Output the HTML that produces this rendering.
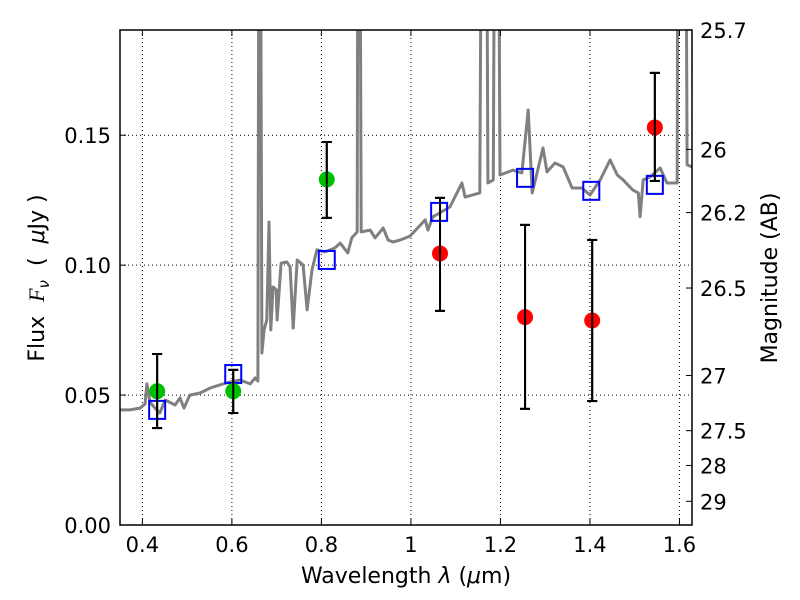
<!DOCTYPE html>
<html><head><meta charset="utf-8"><style>
body{margin:0;background:#fff}
svg{display:block;font-family:"DejaVu Sans","Liberation Sans",sans-serif}
</style></head><body>
<svg id="chart" width="800" height="600" viewBox="0 0 800 600">
<defs><clipPath id="clip"><rect x="120" y="30" width="572" height="495"/></clipPath></defs>
<g id="grid"></g>
<g id="spec" clip-path="url(#clip)"></g>
<g id="marks"></g>
<rect x="120" y="30" width="572" height="495" fill="none" stroke="#000" stroke-width="1.5"/>
<g id="axes"></g>
<text x="406" y="583" font-size="22" text-anchor="middle">Wavelength  <tspan font-style="italic">λ</tspan> (<tspan font-style="italic">μ</tspan>m)</text>
<text transform="translate(44,278) rotate(-90)" font-size="22" text-anchor="middle" xml:space="preserve">Flux  <tspan font-style="italic" font-family="Liberation Serif">F</tspan><tspan font-style="italic" font-size="15" dy="5">ν</tspan><tspan dy="-5">  (  </tspan><tspan font-style="italic">μ</tspan>Jy )</text>
<text transform="translate(777,278) rotate(-90)" font-size="22" text-anchor="middle">Magnitude (AB)</text>
</svg>
<script>
const xTicks=[0.4,0.6,0.8,1.0,1.2,1.4,1.6];
const xTickLabels=["0.4","0.6","0.8","1","1.2","1.4","1.6"];
const yTicks=[0,0.05,0.10,0.15];
const yTickLabels=["0.00","0.05","0.10","0.15"];
const magTicks=[25.7,26,26.2,26.5,27,27.5,28,29];
const magTickLabels=["25.7","26","26.2","26.5","27","27.5","28","29"];
const specWl=[0.350,0.372,0.395,0.406,0.410,0.417,0.428,0.439,0.451,0.473,0.484,0.493,0.506,0.529,0.551,0.573,0.596,0.618,0.641,0.652,0.658,0.661,0.663,0.667,0.672,0.678,0.683,0.687,0.692,0.699,0.701,0.710,0.723,0.730,0.737,0.746,0.759,0.768,0.779,0.790,0.808,0.830,0.842,0.859,0.868,0.880,0.882,0.885,0.889,0.909,0.920,0.938,0.949,0.960,0.976,0.998,1.032,1.038,1.049,1.087,1.114,1.121,1.154,1.159,1.168,1.172,1.184,1.188,1.194,1.199,1.228,1.248,1.262,1.271,1.282,1.295,1.304,1.322,1.340,1.360,1.382,1.400,1.423,1.445,1.461,1.474,1.496,1.508,1.512,1.519,1.534,1.557,1.572,1.595,1.597,1.613,1.617,1.628];
const specFlux=[0.0443,0.0443,0.0450,0.0466,0.0543,0.0473,0.0450,0.0431,0.0481,0.0462,0.0489,0.0450,0.0500,0.0508,0.0527,0.0539,0.0550,0.0558,0.0543,0.0566,0.0554,0.3,0.3,0.0662,0.0751,0.0789,0.1166,0.0751,0.0916,0.0905,0.0789,0.1008,0.1012,0.0993,0.0758,0.1020,0.1001,0.0828,0.0982,0.1059,0.1051,0.1066,0.1085,0.1047,0.1105,0.1128,0.3,0.3,0.1128,0.1135,0.1105,0.1143,0.1097,0.1089,0.1097,0.1112,0.1174,0.1135,0.1186,0.1224,0.1316,0.1262,0.1278,0.3,0.3,0.1316,0.1328,0.3,0.3,0.1347,0.1366,0.1355,0.1597,0.1278,0.1355,0.1451,0.1359,0.1393,0.1378,0.1297,0.1297,0.1270,0.1328,0.1405,0.1347,0.1328,0.1289,0.1278,0.1186,0.1328,0.1339,0.1374,0.1316,0.1316,0.3,0.3,0.1386,0.1378];
const greenWl=[0.433,0.603,0.812];
const greenFlux=[0.0515,0.0515,0.133];
const greenLo=[0.0373,0.0431,0.1182];
const greenHi=[0.0658,0.0597,0.1474];
const redWl=[1.065,1.255,1.405,1.545];
const redFlux=[0.1045,0.080,0.0787,0.153];
const redLo=[0.0824,0.0447,0.0477,0.1324];
const redHi=[0.1259,0.1155,0.1097,0.174];
const modelWl=[0.433,0.603,0.812,1.063,1.255,1.403,1.545];
const modelFlux=[0.0443,0.0581,0.102,0.1205,0.1336,0.1286,0.1309];

const X0=120,X1=692,Y0=525,Y1=30,xmin=0.35,xmax=1.628,ymin=0,ymax=0.1905;
const sx=v=>X0+(v-xmin)/(xmax-xmin)*(X1-X0);
const sy=v=>Y0-(v-ymin)/(ymax-ymin)*(Y0-Y1);
const NS="http://www.w3.org/2000/svg";
function mk(parent,tag,attrs){const e=document.createElementNS(NS,tag);for(const k in attrs)e.setAttribute(k,attrs[k]);parent.appendChild(e);return e;}
const grid=document.getElementById('grid'),axes=document.getElementById('axes'),spec=document.getElementById('spec'),marks=document.getElementById('marks');
xTicks.forEach((t,i)=>{const x=sx(t);
 const g=mk(grid,'line',{x1:x,x2:x,y1:Y1,y2:Y0,stroke:'#000','stroke-width':1,'stroke-dasharray':'1,3'});
 
 
 mk(axes,'line',{x1:x,x2:x,y1:Y0,y2:Y0-6,stroke:'#000'});
 mk(axes,'line',{x1:x,x2:x,y1:Y1,y2:Y1+6,stroke:'#000'});
 const l=mk(axes,'text',{x:x,y:Y0+27,'font-size':21,'text-anchor':'middle'});l.textContent=xTickLabels[i];
 
 });
yTicks.forEach((t,i)=>{const y=sy(t);
 if(t>0){const g=mk(grid,'line',{x1:X0,x2:X1,y1:y,y2:y,stroke:'#000','stroke-width':1,'stroke-dasharray':'1,3'});
 
 }
 mk(axes,'line',{x1:X0,x2:X0+6,y1:y,y2:y,stroke:'#000'});
 const l=mk(axes,'text',{x:X0-9,y:y+8,'font-size':21,'text-anchor':'end'});l.textContent=yTickLabels[i];
 
 });
magTicks.forEach((m,i)=>{const y=sy(Math.pow(10,(23.9-m)/2.5));
 mk(axes,'line',{x1:X1-6,x2:X1,y1:y,y2:y,stroke:'#000'});
 const l=mk(axes,'text',{x:X1+8,y:y+8,'font-size':21});l.textContent=magTickLabels[i];
 
 });
const pts=specWl.map((w,i)=>sx(w).toFixed(1)+','+sy(specFlux[i]).toFixed(1)).join(' ');
const pl=mk(spec,'polyline',{points:pts,fill:'none',stroke:'#808080','stroke-width':3,'stroke-linejoin':'round'});


function errbar(w,lo,hi){const x=sx(w);
 mk(marks,'line',{x1:x,x2:x,y1:sy(lo),y2:sy(hi),stroke:'#000','stroke-width':2});
 mk(marks,'line',{x1:x-5,x2:x+5,y1:sy(lo),y2:sy(lo),stroke:'#000','stroke-width':2});
 mk(marks,'line',{x1:x-5,x2:x+5,y1:sy(hi),y2:sy(hi),stroke:'#000','stroke-width':2});}
modelWl.forEach((w,i)=>{const s=mk(marks,'rect',{x:sx(w)-8,y:sy(modelFlux[i])-9,width:16,height:18,fill:'none',stroke:'#0000ff','stroke-width':2});
 
 });
greenWl.forEach((w,i)=>{errbar(w,greenLo[i],greenHi[i]);
 const c=mk(marks,'circle',{cx:sx(w),cy:sy(greenFlux[i]),r:8,fill:'#00bf00'});
 
 
 errbar(w,greenLo[i],greenHi[i]);});
redWl.forEach((w,i)=>{errbar(w,redLo[i],redHi[i]);
 const c=mk(marks,'circle',{cx:sx(w),cy:sy(redFlux[i]),r:8,fill:'#ff0000'});
 
 
 errbar(w,redLo[i],redHi[i]);});
</script>
</body></html>
